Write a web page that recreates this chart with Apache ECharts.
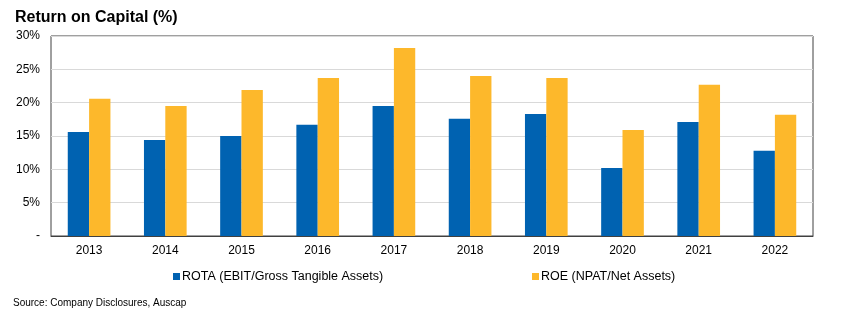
<!DOCTYPE html>
<html>
<head>
<meta charset="utf-8">
<script src="https://cdn.jsdelivr.net/npm/echarts@6/dist/echarts.min.js"></script>
<style>
  html, body { margin: 0; padding: 0; background: #fff; }
  #chart { width: 849px; height: 321px; }
</style>
</head>
<body>
<div id="chart"></div>
<script>
// Financial years
const years = ['2013', '2014', '2015', '2016', '2017', '2018', '2019', '2020', '2021', '2022'];
// Return on tangible assets, %
const rota = [15.6, 14.4, 15.0, 16.7, 19.5, 17.6, 18.3, 10.2, 17.1, 12.8];
// Return on equity, %
const roe = [20.6, 19.5, 21.9, 23.7, 28.2, 24.0, 23.7, 15.9, 22.7, 18.2];
// Value axis ticks
const yTicks = [0, 5, 10, 15, 20, 25, 30];

const seriesNames = ['ROTA (EBIT/Gross Tangible Assets)', 'ROE (NPAT/Net Assets)'];
const font = 'Arial, "Liberation Sans", Helvetica, sans-serif';

const chart = echarts.init(document.getElementById('chart'), null, { renderer: 'canvas' });

const legendBase = {
  orient: 'horizontal',
  top: 270,
  padding: 0,
  icon: 'rect',
  itemWidth: 7,
  itemHeight: 7,
  itemGap: 0,
  textStyle: { fontFamily: font, fontSize: 12.5, color: '#000', padding: [0, 0, 0, -3] }
};

chart.setOption({
  animation: false,
  backgroundColor: '#ffffff',
  title: {
    text: 'Return on Capital (%)',
    left: 10,
    top: 5,
    textStyle: { fontFamily: font, fontSize: 16, fontWeight: 'bold', color: '#000' }
  },
  graphic: [{
    type: 'text',
    left: 13,
    top: 298,
    style: { text: 'Source: Company Disclosures, Auscap', font: '10px ' + font, fill: '#000' }
  }],
  legend: [
    Object.assign({}, legendBase, { left: 173, data: [seriesNames[0]] }),
    Object.assign({}, legendBase, { left: 532, data: [seriesNames[1]] })
  ],
  grid: {
    left: 51, right: 36, top: 36, bottom: 85,
    show: true, borderColor: '#404040', borderWidth: 1
  },
  xAxis: {
    type: 'category',
    data: years,
    axisLine: { show: true, lineStyle: { color: '#404040', width: 1 } },
    axisTick: { show: false },
    axisLabel: { fontFamily: font, fontSize: 12, color: '#000', margin: 9 }
  },
  yAxis: {
    type: 'value',
    min: yTicks[0],
    max: yTicks[yTicks.length - 1],
    interval: yTicks[1] - yTicks[0],
    axisLine: { show: false },
    axisTick: { show: false },
    splitLine: { lineStyle: { color: '#D9D9D9', width: 1 } },
    axisLabel: {
      fontFamily: font, fontSize: 12, color: '#000', margin: 11,
      formatter: v => (v === 0 ? '-' : v + '%')
    }
  },
  series: [
    {
      name: seriesNames[0], type: 'bar', data: rota,
      barWidth: '28%', barGap: '0%',
      itemStyle: { color: '#0062B1' }
    },
    {
      name: seriesNames[1], type: 'bar', data: roe,
      barWidth: '28%', barGap: '0%',
      itemStyle: { color: '#FDB82B' }
    }
  ]
});
</script>
</body>
</html>
